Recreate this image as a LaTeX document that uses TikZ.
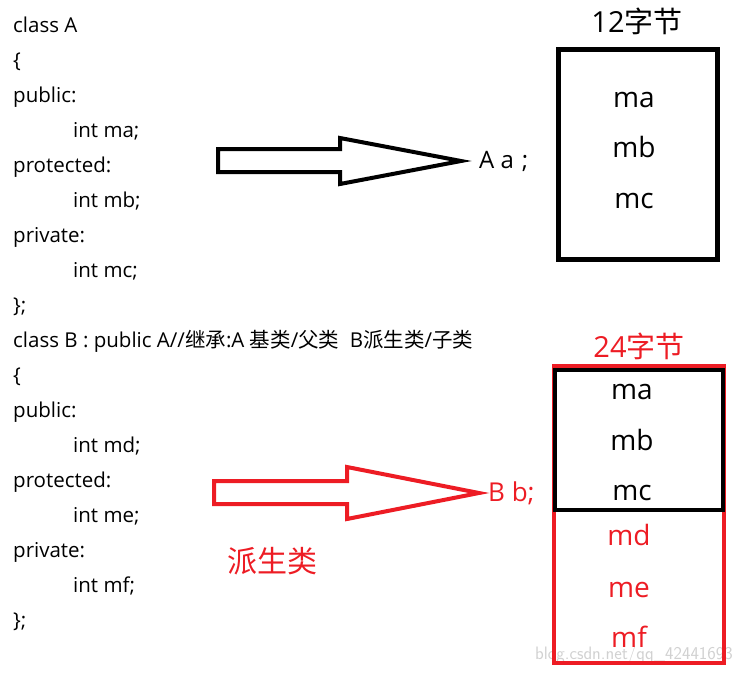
\documentclass[tikz,border=0pt]{standalone}
\usepackage{fontspec}
\setmainfont{Open Sans}
\newfontfamily\cjk{Noto Sans CJK SC}
\usetikzlibrary{positioning}
\definecolor{paintred}{HTML}{ED1C24}
\tikzset{
  codeline/.style={anchor=base west, inner sep=0pt, font=\fontsize{20.5}{22}\selectfont},
  member/.style={anchor=base, inner sep=0pt, font=\fontsize{28}{30}\selectfont},
  sizelabel/.style={anchor=base, inner sep=0pt, font=\fontsize{29}{31}\selectfont},
  blockarrow/.style={line width=4pt, line join=miter},
}
\begin{document}
\begin{tikzpicture}[x=1pt, y=-1pt]
  \useasboundingbox (0,0) rectangle (741,672);
  % watermark
  \node[anchor=base east, inner sep=0pt, text=black!18, font=\fontsize{18}{20}\selectfont\sffamily] (wm) at (733,659) {blog.csdn.net/qq\_42441693};
  % source code
  \foreach \n/\txt in {0/class A, 1/\{, 2/public:, 4/protected:, 6/private:, 8/\};,
                       10/\{, 11/public:, 13/protected:, 15/private:, 17/\};}
    \node[codeline] (c\n) at (13,32+35*\n) {\txt};
  \foreach \n/\txt in {3/int ma;, 5/int mb;, 7/int mc;, 12/int md;, 14/int me;, 16/int mf;}
    \node[codeline] (c\n) at (73,32+35*\n) {\txt};
  \node[codeline] (c9) at (13,347) {class B : public A//{\cjk 继承}:A {\cjk 基类}/{\cjk 父类}\ \ B{\cjk 派生类}/{\cjk 子类}};
  % object a
  \node[draw, line width=5pt, minimum width=159pt, minimum height=210pt, inner sep=0pt] (boxa) at (637.5,154.5) {};
  \node[sizelabel] (sizea) at (637,32) {12{\cjk 字节}};
  \node[member] (a1) at (634,107) {ma};
  \node[member] (a2) at (634,157) {mb};
  \node[member] (a3) at (634,208) {mc};
  \coordinate (tipa) at (461,161);
  \node[right=18pt of tipa, inner sep=0pt, font=\fontsize{24}{26}\selectfont] (obja) {A a\hspace{8pt};};
  \draw[blockarrow] (218,149) -- (340,149) -- (340,138) -- (tipa)
    -- (340,184) -- (340,172) -- (218,172) -- cycle;
  % object b
  \node[draw=paintred, line width=4pt, minimum width=170pt, minimum height=297pt, inner sep=0pt] (boxb) at (639,514.5) {};
  \node[draw, line width=4pt, minimum width=168pt, minimum height=140pt, inner sep=0pt] (boxba) at (639,440) {};
  \node[sizelabel, text=paintred] (sizeb) at (639,357) {24{\cjk 字节}};
  \node[member] (b1) at (632,399) {ma};
  \node[member] (b2) at (632,450) {mb};
  \node[member] (b3) at (632,500) {mc};
  \node[member, text=paintred] (b4) at (629,545) {md};
  \node[member, text=paintred] (b5) at (629,597) {me};
  \node[member, text=paintred] (b6) at (629,647) {mf};
  \coordinate (tipb) at (479,493);
  \node[right=9pt of tipb, inner sep=0pt, text=paintred, font=\fontsize{26}{28}\selectfont] (objb) {B b;};
  \draw[blockarrow, draw=paintred] (214,481) -- (347,481) -- (347,467) -- (tipb)
    -- (347,519) -- (347,504) -- (214,504) -- cycle;
  \node[anchor=base west, inner sep=0pt, text=paintred, font=\fontsize{30}{32}\cjk] (derived) at (227,572) {派生类};
\end{tikzpicture}
\end{document}
